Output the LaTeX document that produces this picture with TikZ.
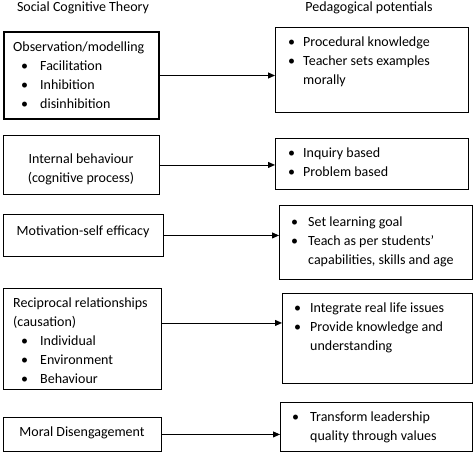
\documentclass[tikz,border=0pt]{standalone}
\usepackage{fontspec}
\setmainfont{Carlito}
\usetikzlibrary{arrows.meta}
\newcommand{\itm}[1][17pt]{\makebox[#1][l]{\textbullet}}
\begin{document}
\begin{tikzpicture}[x=1pt,y=-1pt,
  box/.style={draw,line width=0.9pt,anchor=north west,inner sep=0pt},
  txt/.style={font=\fontsize{14}{18.8}\selectfont,inner sep=0pt,align=left},
  arr/.style={-{Triangle[length=7pt,width=6pt]},line width=0.9pt}]
\useasboundingbox (0,0) rectangle (474,452);
% headings
\node[txt] (lhead) at (83,7.5) {Social Cognitive Theory};
\node[txt] (rhead) at (369,7.5) {Pedagogical potentials};
% left column
\node[box,line width=2pt,minimum width=155pt,minimum height=87pt] (obs) at (3,31) {};
\node[txt,anchor=north west] (obs-t) at (13,42) {Observation/modelling\\
  \hspace*{8pt}\itm[19pt]Facilitation\\
  \hspace*{8pt}\itm[19pt]Inhibition\\
  \hspace*{8pt}\itm[19pt]disinhibition};
\node[box,minimum width=156pt,minimum height=59pt] (intb) at (3,135) {};
\node[txt,align=center] (intb-t) at (81,169) {Internal behaviour\\(cognitive process)};
\node[box,minimum width=160pt,minimum height=42pt] (moti) at (3,214) {};
\node[txt] (moti-t) at (83,232) {Motivation-self efficacy};
\node[box,minimum width=158pt,minimum height=101pt] (reci) at (3,288) {};
\node[txt,anchor=north west] (reci-t) at (13,298) {Reciprocal relationships\\
  (causation)\\
  \hspace*{8pt}\itm[19pt]Individual\\
  \hspace*{8pt}\itm[19pt]Environment\\
  \hspace*{8pt}\itm[19pt]Behaviour};
\node[box,minimum width=158pt,minimum height=34pt] (moral) at (3,417) {};
\node[txt] (moral-t) at (82,433) {Moral Disengagement};
% right column
\node[box,minimum width=193pt,minimum height=85pt] (proc) at (275,27) {};
\node[txt,anchor=north west] (proc-t) at (288,36.5) {\itm[15pt]Procedural knowledge\\
  \itm[15pt]Teacher sets examples\\
  \hspace*{15pt}morally};
\node[box,minimum width=193pt,minimum height=51pt] (inq) at (275,138) {};
\node[txt,anchor=north west] (inq-t) at (288,147.5) {\itm[15pt]Inquiry based\\
  \itm[15pt]Problem based};
\node[box,minimum width=193pt,minimum height=74pt] (goal) at (279,205) {};
\node[txt,anchor=north west] (goal-t) at (291,216.5) {\itm[17pt]Set learning goal\\
  \itm[17pt]Teach as per students'\\
  \hspace*{17pt}capabilities, skills and age};
\node[box,minimum width=190pt,minimum height=90pt] (integ) at (282,293) {};
\node[txt,anchor=north west] (integ-t) at (294,302.5) {\itm[16pt]Integrate real life issues\\
  \itm[16pt]Provide knowledge and\\
  \hspace*{16pt}understanding};
\node[box,minimum width=192pt,minimum height=49pt] (trans) at (280,402) {};
\node[txt,anchor=north west] (trans-t) at (292,411.5) {\itm[18pt]Transform leadership\\
  \hspace*{18pt}quality through values};
% connectors
\draw[arr] (obs.east) -- (obs.east -| proc.west);
\draw[arr] (intb.east) -- (intb.east -| inq.west);
\draw[arr] (moti.east) -- (moti.east -| goal.west);
\draw[arr] ([yshift=16pt]reci.east) -- ([yshift=16pt]reci.east -| integ.west);
\draw[arr] (moral.east) -- (moral.east -| trans.west);
\end{tikzpicture}
\end{document}
